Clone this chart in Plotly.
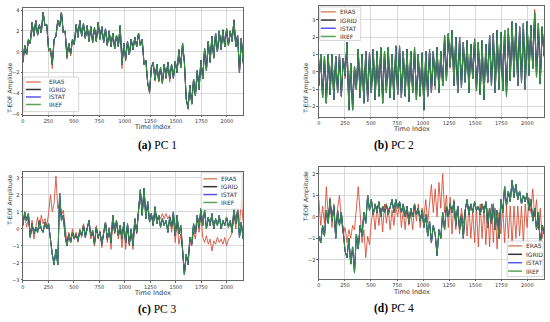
import plotly.graph_objects as go

# ---------------- data ----------------
time_index = list(range(0, 2161, 18))
series_names = ["ERA5", "IGRID", "ISTAT", "IREF"]
x_ticks = [0, 250, 500, 750, 1000, 1250, 1500, 1750, 2000]

pc1_obs = [-1.0, 0.6, -0.3, 1.2, 0.8, 2.8, 1.5, 3.0, 1.6, 2.6, 1.8, 3.8, 2.5, 2.6, 0.2, 0.3, -1.2, 1.2, 1.5, 3.0,
           2.4, 3.8, 1.8, 2.0, -0.5, 0.8, -0.2, 1.2, 0.7, 2.6, 1.4, 3.0, 1.5, 2.7, 1.3, 2.5, 1.0, 2.4, 0.9, 2.3,
           1.0, 2.8, 1.2, 2.4, 0.9, 2.2, 0.6, 2.0, 0.5, 1.8, 0.3, 1.6, 0.5, 2.5, -1.2, 0.8, -0.7, 1.0, -0.3, 1.2,
           0.2, 1.4, 0.5, 1.8, 0.6, 1.2, -1.2, -0.8, -3.0, -3.8, -1.5, -1.0, -2.7, -1.2, -2.8, -1.5, -3.0, -1.2, -2.5, -1.0,
           -2.6, -1.2, -2.5, -0.9, -2.0, 0.2, -1.5, 0.8, -1.0, -4.5, -5.4, -3.2, -5.0, -2.6, -4.2, -1.8, -3.6, -0.8, -2.6, 0.3,
           -1.8, 1.0, -1.0, 1.5, -0.6, 1.8, 0.0, 2.0, 0.2, 2.1, 0.5, 2.2, 0.6, 2.0, 1.0, 3.0, 0.5, 1.6, -2.0, 1.3, -1.0]
pc1_era5 = [-1.0, 0.6, -0.3, 1.2, 0.8, 2.8, 1.5, 3.0, 1.6, 2.6, 1.8, 3.8, 2.5, 2.6, 0.0, 0.3, -1.6, 1.2, 1.5, 3.0,
            2.4, 3.8, 1.8, 2.0, -0.7, 0.8, -0.4, 1.2, 0.7, 2.6, 1.4, 3.0, 1.5, 2.7, 1.3, 2.5, 1.0, 2.4, 0.9, 2.3,
            1.0, 2.8, 1.2, 2.4, 0.9, 2.2, 0.6, 2.0, 0.5, 1.8, 0.3, 1.6, 0.5, 2.5, -1.6, 0.8, -0.9, 1.0, -0.3, 1.2,
            0.2, 1.4, 0.5, 1.8, 0.6, 1.2, -1.2, -0.8, -3.1, -4.0, -1.5, -1.0, -2.8, -1.2, -2.9, -1.5, -3.0, -1.2, -2.6, -1.0,
            -2.9, -1.2, -2.6, -0.9, -2.0, 0.2, -1.5, 0.8, -1.0, -4.6, -5.5, -3.2, -5.0, -2.6, -4.2, -1.8, -3.6, -0.8, -2.6, 0.3,
            -1.8, 1.0, -1.0, 1.5, -0.6, 1.8, 0.0, 2.0, 0.2, 2.1, 0.5, 2.2, 0.6, 2.0, 1.0, 3.1, 0.5, 1.6, -2.0, 1.3, -1.2]
pc1_igrid = pc1_obs
pc1_istat = pc1_obs
pc1_iref = pc1_obs

pc2_obs = [-0.8, 1.0, -1.5, 0.9, -1.8, 1.0, -1.3, 1.0, -1.6, 0.9, -1.2, 1.0, -1.4, 0.8, -0.2, 1.7, -2.2, 0.5, -2.2, 0.3,
           -1.0, 1.3, -1.5, 1.0, -1.8, 1.2, -1.7, 1.1, -1.2, 1.3, -1.6, 1.2, -1.4, 1.4, -1.8, 1.2, -1.2, 1.4, -1.5, 1.0,
           -1.6, 1.5, -1.3, 1.5, -1.5, 1.2, -1.4, 1.3, -1.7, 1.2, -1.2, 1.4, -1.6, 1.0, -1.4, 1.1, -2.2, 1.2, -1.4, 1.3,
           -1.2, 1.2, -0.8, 1.4, -1.2, 1.2, -0.8, 2.1, -0.5, 2.2, 0.3, 2.4, -0.8, 2.0, -1.2, 2.0, -0.9, 1.7, -0.6, 1.8,
           -1.2, 1.6, -0.4, 1.9, -1.1, 1.7, -1.3, 1.8, -1.6, 1.6, -0.6, 2.1, -0.8, 2.2, -1.2, 2.4, -1.0, 2.3, -1.1, 2.4,
           -1.4, 2.5, -0.5, 2.9, -0.3, 2.8, -0.8, 2.6, -0.6, 2.8, -1.0, 2.9, -0.2, 2.7, 0.2, 3.4, -0.3, 2.8, -0.7, 2.6, 0.9]
pc2_era5 = [-0.8, 1.0, -1.5, 0.9, -1.8, 1.0, -1.3, 1.0, -1.6, 0.9, -1.2, 1.0, -1.4, 0.8, -0.4, 1.7, -2.2, 0.5, -2.1, 0.3,
            -1.0, 1.3, -1.5, 1.0, -1.8, 1.2, -1.7, 1.1, -1.2, 1.3, -1.6, 1.2, -1.4, 1.4, -1.8, 1.2, -1.2, 1.4, -1.5, 1.0,
            -1.6, 1.5, -1.3, 1.5, -1.5, 1.2, -1.4, 1.3, -1.7, 1.2, -1.2, 1.4, -1.6, 1.0, -1.4, 1.1, -2.2, 1.2, -1.4, 1.3,
            -1.2, 1.2, -1.0, 1.4, -1.2, 1.2, -0.8, 2.1, -0.5, 2.2, 0.2, 2.3, -0.8, 2.0, -1.2, 2.0, -0.9, 1.7, -0.3, 1.8,
            -1.2, 1.6, -0.4, 1.9, -1.1, 1.7, -1.3, 1.8, -1.6, 1.6, -0.6, 2.1, -0.8, 2.2, -1.2, 2.4, -1.0, 2.3, -0.9, 2.4,
            -1.4, 2.5, -0.5, 2.8, -0.3, 2.7, -0.8, 2.6, -0.6, 2.7, -1.0, 2.8, -0.2, 2.7, 0.2, 3.6, -0.3, 2.8, -0.7, 2.5, 0.9]
pc2_igrid = pc2_obs
pc2_istat = pc2_obs
pc2_iref = pc2_obs

pc3_obs = [0.2, 1.0, 0.5, 0.9, -0.5, 0.3, -0.3, 0.1, -0.2, 0.5, 0.0, -0.2, 0.4, 0.0, 0.3, -0.8, -1.5, -2.1, -1.2, -2.1,
           2.1, 0.5, 0.8, -0.4, -1.0, -0.3, -0.8, -0.2, -0.6, -0.3, -0.7, -0.1, -0.4, 0.2, -0.5, 0.0, 0.5, -0.4, -0.1, -0.9,
           0.1, -0.5, -0.2, -0.9, -0.3, 0.4, -0.6, 0.0, -0.8, 0.8, -0.2, 0.5, -0.4, 0.2, -0.6, 0.4, -0.8, 0.3, -0.9, 0.0,
           -1.0, 0.6, -0.2, 1.0, 2.3, 0.8, 2.4, 0.6, 1.6, 0.4, 0.9, 0.2, 1.3, 0.3, 0.8, 0.1, 0.6, 0.2, 0.5, -0.2,
           0.7, 0.1, 1.0, -0.4, 0.8, -0.3, 0.2, -1.2, -2.7, -1.5, -2.1, -0.5, -0.9, 0.3, -0.3, 0.8, 0.1, 1.2, 0.2, 1.1,
           0.0, 0.7, 0.2, 0.9, 0.0, 0.6, 0.2, 0.8, 0.0, 0.5, 0.2, 0.7, 0.1, 0.5, -0.2, 1.2, 0.3, 1.1, -0.5, 0.4, -0.6]
pc3_era5 = [0.4, 0.8, 0.1, 0.6, -0.4, 0.5, -0.6, 0.2, 0.7, 0.0, 0.8, 0.3, 0.6, 0.2, 0.9, 2.0, 1.0, 1.5, 3.1, 1.2,
            1.5, 0.8, 1.1, 0.2, -0.8, -0.2, -0.7, 0.0, -0.5, -0.2, -0.8, 0.0, -0.5, 0.3, -0.3, 0.1, 0.4, -0.6, -0.2, -1.0,
            0.2, -0.6, -0.1, -1.1, -0.2, 0.3, -0.8, 0.1, -1.2, 0.6, -0.3, 0.4, -0.6, 0.1, -1.1, 0.3, -1.2, 0.2, -1.0, -0.1,
            -1.2, 0.5, -0.3, 1.2, 2.0, 0.9, 2.2, 0.8, 1.4, 0.5, 0.8, 0.3, 1.1, 0.5, 0.8, 0.6, 0.9, 0.6, 0.9, 0.6,
            0.8, -0.2, 0.6, -0.8, 0.5, -0.9, -0.3, -1.3, -2.5, -1.6, -1.8, -0.8, -1.0, -0.2, -0.6, 0.6, -0.2, 0.8, -0.5, -0.8,
            -0.4, -0.9, -0.6, -1.3, -0.7, -0.9, -0.5, -0.8, -0.6, -0.9, -0.5, -1.0, -0.6, -0.5, -0.2, 1.0, 0.0, 1.2, 0.2, 1.7, 0.4]
pc3_igrid = pc3_obs
pc3_istat = pc3_obs
pc3_iref = pc3_obs

pc4_obs = [-0.9, -1.2, -0.4, -0.9, 0.3, -0.3, 0.8, -0.2, 0.5, -1.0, 0.3, -0.4, 0.2, -0.8, -1.6, -1.9, -1.0, -2.2, -1.4, -2.6,
           -0.8, -1.5, -0.4, -0.9, 0.2, -0.3, 1.0, 0.3, 0.8, 0.1, 0.6, 0.2, 0.7, 0.0, 0.5, 0.2, 0.6, 0.1, 0.5, 0.8,
           0.2, 0.8, 0.4, 0.7, 0.2, 0.6, 0.0, 0.5, -0.3, 0.4, 0.0, 0.6, 0.1, 0.4, -0.2, 0.3, -0.5, 0.1, -0.9, -0.2,
           -1.2, -0.4, -0.8, -1.8, -0.6, -1.0, 0.2, -0.6, 0.5, 0.0, 0.6, 0.2, 0.7, -0.4, 0.5, -0.6, 0.1, -1.0, 0.3, 0.8,
           0.1, 0.6, 0.2, 0.7, 0.3, 0.5, 0.1, 0.6, 0.2, 0.7, -0.5, 0.4, -0.3, 0.6, -0.6, 0.3, -1.0, 0.8, 0.2, 1.4,
           0.5, 1.2, 0.7, 1.7, 0.9, 1.5, 0.8, 1.2, 0.6, 1.0, 0.7, 1.1, 0.3, 0.8, -0.2, 0.4, -0.6, 0.2, -1.3, -0.4, -0.8]
pc4_era5 = [0.8, -0.4, 0.5, -0.3, 1.4, 0.0, 0.9, -0.5, 0.6, -0.8, 0.4, 1.0, -0.2, -0.8, -0.5, -1.2, -0.6, -1.0, -0.4, -0.6,
            0.4, 1.4, 0.2, -1.2, -0.6, -1.9, -0.9, -1.3, -0.2, 0.3, -0.6, 0.5, -0.4, 0.4, -0.7, 0.6, -0.3, 0.4, -0.6, 0.3,
            -0.4, 0.5, 0.0, 0.6, -0.5, 0.3, -0.6, 0.5, -0.4, 0.2, -0.6, 0.5, -0.2, 0.6, -0.5, 0.4, 0.0, 0.8, -0.3, 0.6,
            1.5, 0.2, 1.3, 0.0, 1.6, 0.4, 2.0, 0.2, 1.0, -0.5, 0.9, -0.8, 0.8, -0.6, 0.5, -0.8, 0.4, -0.3, 0.3, -0.9,
            0.5, -1.0, 0.3, -1.2, 0.4, -1.4, 0.6, -1.0, 0.5, -1.3, 0.4, -1.4, 0.6, -1.2, 0.4, -1.5, 0.2, -0.8, 0.5, -1.2,
            0.5, -1.0, 0.5, -1.3, 0.5, -1.0, 0.5, -0.9, 0.5, -1.2, 0.6, -0.5, 0.9, 0.2, 1.3, 0.0, 0.8, -0.6, 0.4, -1.0, -0.4]
pc4_igrid = pc4_obs
pc4_istat = pc4_obs
pc4_iref = pc4_obs

# ---------------- styling ----------------
W, H = 550, 322
colors = {"ERA5": "rgba(214,72,48,0.85)", "IGRID": "rgba(0,0,0,0.9)",
          "ISTAT": "rgba(20,20,255,0.85)", "IREF": "rgb(62,148,62)"}
legend_colors = {"ERA5": "#d98a6a", "IGRID": "#333333", "ISTAT": "#5555ee", "IREF": "#5aa55a"}


def px(x):
    return x / W


def py(y):
    return 1 - y / H


# box: (left, top, right, bottom) in pixels; entry rows; line x-range; text x
panels = [
    dict(data=[pc1_era5, pc1_igrid, pc1_istat, pc1_iref], xpx=(21, 242), ypx=(7, 115),
         yr=[-6, 4.2], dt=2, cap="<b>(a)</b> PC 1", capxy=(135, 146), titley=128,
         box=(22, 77, 77, 112), rows=(82, 89.6, 97.2, 104.8), lx=(24, 39), tx=46),
    dict(data=[pc2_era5, pc2_igrid, pc2_istat, pc2_iref], xpx=(318, 544), ypx=(5, 117),
         yr=[-2.57, 3.8], dt=1, cap="<b>(b)</b> PC 2", capxy=(415, 146), titley=130,
         box=(319, 6, 360, 40), rows=(11, 19.3, 27.6, 35.9), lx=(320, 335), tx=338),
    dict(data=[pc3_era5, pc3_igrid, pc3_istat, pc3_iref], xpx=(21, 242), ypx=(173, 283),
         yr=[-3.03, 3.35], dt=1, cap="<b>(c)</b> PC 3", capxy=(135, 312), titley=296,
         box=(200, 174, 241, 211), rows=(180, 188, 196, 204), lx=(202, 216), tx=219),
    dict(data=[pc4_era5, pc4_igrid, pc4_istat, pc4_iref], xpx=(318, 544), ypx=(168, 281),
         yr=[-2.87, 2.32], dt=1, cap="<b>(d)</b> PC 4", capxy=(415, 311), titley=294.5,
         box=(507, 243, 543, 279), rows=(248, 256.5, 265, 273.5), lx=(508, 522), tx=525),
]

fig = go.Figure()
layout = dict(width=W, height=H, margin=dict(l=0, r=0, t=0, b=0), showlegend=False,
              paper_bgcolor="white", plot_bgcolor="white", annotations=[], shapes=[])
small = dict(family="DejaVu Sans", color="#333")

for i, p in enumerate(panels):
    n = "" if i == 0 else str(i + 1)
    for name, vals in zip(series_names, p["data"]):
        fig.add_trace(go.Scatter(x=time_index, y=vals, mode="lines", name=name,
                                 line=dict(color=colors[name], width=1),
                                 xaxis="x" + n, yaxis="y" + n))
    axcommon = dict(showline=True, mirror=True, linecolor="#666", linewidth=0.8,
                    showgrid=True, gridcolor="#d9d9d9", gridwidth=0.6, zeroline=False,
                    ticks="outside", ticklen=1.5, tickcolor="#666",
                    tickfont=dict(size=5, **small))
    xd = [px(p["xpx"][0]), px(p["xpx"][1])]
    yd = [py(p["ypx"][1]), py(p["ypx"][0])]
    layout["xaxis" + n] = dict(domain=xd, anchor="y" + n, range=[0, 2160],
                               tickvals=x_ticks, **axcommon)
    layout["yaxis" + n] = dict(domain=yd, anchor="x" + n, range=p["yr"],
                               dtick=p["dt"], tick0=0, **axcommon)
    # axis titles and caption
    layout["annotations"].append(dict(text="Time Index", x=(xd[0] + xd[1]) / 2, y=py(p["titley"]),
                                      xref="paper", yref="paper", showarrow=False, yanchor="middle",
                                      borderpad=0, font=dict(size=6.5, **small)))
    layout["annotations"].append(dict(text="T-EOF Amplitude", x=px(p["xpx"][0] - 13),
                                      y=(yd[0] + yd[1]) / 2, textangle=-90, borderpad=0,
                                      xref="paper", yref="paper", showarrow=False,
                                      xanchor="center", font=dict(size=6, **small)))
    layout["annotations"].append(dict(text=p["cap"], x=px(p["capxy"][0]), y=py(p["capxy"][1]),
                                      xref="paper", yref="paper", showarrow=False, yanchor="middle",
                                      borderpad=0,
                                      font=dict(size=11.5, family="Liberation Serif", color="black")))
    # legend box
    l, t, r, b = p["box"]
    layout["shapes"].append(dict(type="rect", xref="paper", yref="paper",
                                 x0=px(l), x1=px(r), y0=py(b), y1=py(t),
                                 line=dict(color="#cccccc", width=0.8),
                                 fillcolor="rgba(255,255,255,0.85)", layer="above"))
    for name, ry in zip(series_names, p["rows"]):
        layout["shapes"].append(dict(type="line", xref="paper", yref="paper",
                                     x0=px(p["lx"][0]), x1=px(p["lx"][1]), y0=py(ry), y1=py(ry),
                                     line=dict(color=legend_colors[name], width=1.5), layer="above"))
        layout["annotations"].append(dict(text=name, x=px(p["tx"]), y=py(ry), xref="paper", yref="paper",
                                          showarrow=False, xanchor="left", yanchor="middle", borderpad=0,
                                          font=dict(size=6, **small)))

fig.update_layout(**layout)
fig.write_html("out.html", config={"displayModeBar": False},
               post_script="document.body.style.margin='0px';document.body.style.padding='0px';")
